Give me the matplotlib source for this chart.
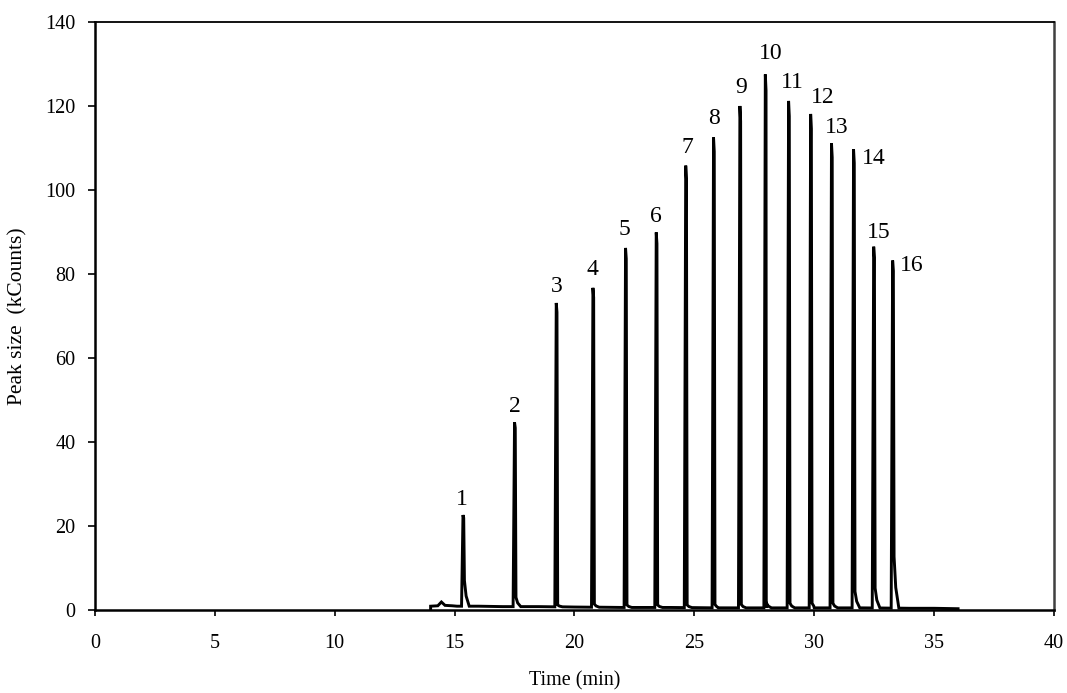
import numpy as np
import matplotlib
matplotlib.use("Agg")
import matplotlib.pyplot as plt

plt.rcParams['font.family'] = ['Liberation Serif', 'DejaVu Serif']

# Peak data
peak_ids = [str(i) for i in range(1, 17)]
peak_times = [15.36, 17.51, 19.25, 20.78, 22.14, 23.42, 24.65, 25.81,
              26.91, 27.97, 28.94, 29.86, 30.73, 31.65, 32.49, 33.28]
peak_heights = [22.6, 44.7, 73.1, 76.7, 86.2, 89.9, 105.8, 112.5,
                120.0, 127.5, 121.2, 118.1, 111.1, 109.7, 86.5, 83.2]
tail_heights = [7.0, 3.0, 1.2, 1.4, 1.2, 1.2, 1.2, 1.3,
                1.3, 1.5, 1.6, 1.6, 1.6, 4.4, 5.2, 12.7]

# Baseline (time, kCounts) between the peaks
base_times = [14.0, 14.0, 14.3, 14.45, 14.6, 14.9, 15.1, 16.0, 17.0, 18.5,
              20.0, 22.0, 24.0, 26.0, 28.0, 30.0, 32.0, 34.0, 35.0, 36.0, 36.0]
base_values = [0.0, 0.9, 1.0, 1.9, 1.1, 1.0, 0.9, 0.9, 0.8, 0.8,
               0.7, 0.6, 0.6, 0.5, 0.5, 0.5, 0.5, 0.4, 0.4, 0.3, 0.0]

# Label positions (time, kCounts) for the peak numbers
label_x = [15.29, 17.51, 19.27, 20.73, 22.10, 23.39, 24.69, 25.81,
           26.94, 28.19, 29.07, 30.36, 30.94, 32.49, 32.69, 34.07]
label_y = [26.2, 48.4, 77.1, 81.0, 90.5, 93.6, 110.0, 116.9,
           124.3, 132.4, 125.7, 121.9, 114.8, 107.4, 89.8, 82.1]

# Build the trace: baseline points plus a sharp tailing shape per peak
pts = list(zip(base_times, base_values))
for t, h, tail in zip(peak_times, peak_heights, tail_heights):
    b = np.interp(t, base_times[1:-1], base_values[1:-1])
    pts += [(t - 0.07, b), (t - 0.01, h), (t + 0.02, h * 0.97),
            (t + 0.05, tail), (t + 0.12, b + (tail - b) * 0.4),
            (t + 0.25, b)]
# keep the end steps at 14 and 36 in order
pts.sort(key=lambda p: (p[0], 0 if p[0] == 14.0 and p[1] == 0 else 1))
trace_t = [p[0] for p in pts]
trace_y = [p[1] for p in pts]

fig = plt.figure(figsize=(10.67, 6.93), dpi=100)
ax = fig.add_axes([0.089, 0.1198, 0.8988, 0.8485])
ax.plot(trace_t, trace_y, color='black', lw=2.1, solid_joinstyle='miter')

for lab, x, y in zip(peak_ids, label_x, label_y):
    ax.text(x, y, lab, ha='center', va='center', fontsize=17)

ax.set_xlim(0, 40)
ax.set_ylim(0, 140)
ax.set_xticks(range(0, 41, 5))
ax.set_yticks(range(0, 141, 20))
ax.tick_params(axis='x', direction='out', length=4, width=1.2, pad=13, labelsize=14.5)
ax.tick_params(axis='y', direction='out', length=5, width=1.2, pad=9, labelsize=14.5)

for side in ['left', 'bottom']:
    ax.spines[side].set_linewidth(1.8)
ax.spines['top'].set_linewidth(1.3)
ax.spines['right'].set_linewidth(1.8)
ax.spines['right'].set_color('#404040')

fig.text(0.017, 0.544, "Peak size  (kCounts)", rotation=90, ha='center', va='center', fontsize=15.5)
fig.text(0.539, 1 - 681 / 693, "Time (min)", ha='center', va='center', fontsize=14.5)

fig.savefig("out.png", dpi=100)
